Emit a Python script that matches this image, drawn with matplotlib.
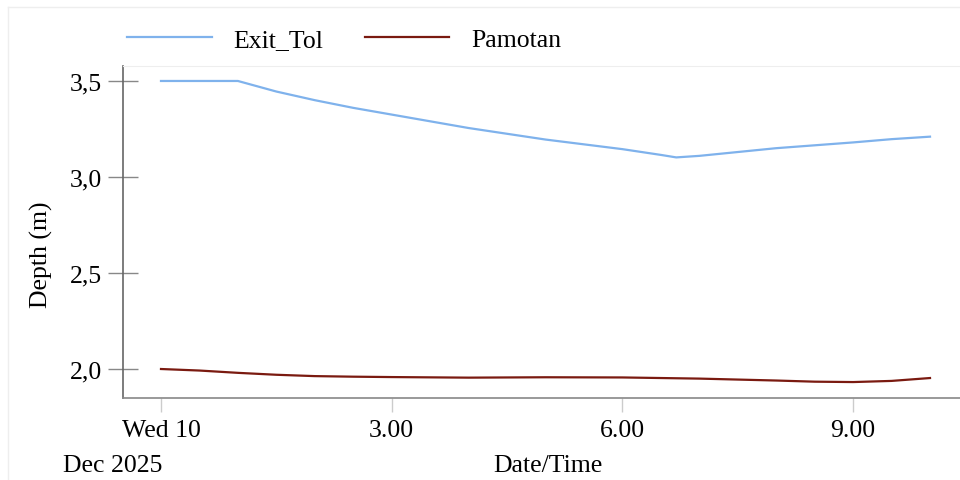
import matplotlib
matplotlib.use("Agg")
import matplotlib.pyplot as plt
from matplotlib.lines import Line2D

# Data (hours after Wed 10 Dec 2025 00:00)
exit_hours = [0.0, 1.0, 1.5, 2.0, 2.5, 3.0, 3.5, 4.0, 4.5, 5.0, 5.5, 6.0, 6.5, 6.7,
              7.0, 7.5, 8.0, 8.5, 9.0, 9.5, 10.0]
exit_tol = [3.50, 3.50, 3.445, 3.40, 3.36, 3.325, 3.29, 3.255, 3.225, 3.195, 3.17,
            3.145, 3.115, 3.102, 3.11, 3.13, 3.15, 3.165, 3.18, 3.197, 3.21]

pam_hours = [0.0, 0.5, 1.0, 1.5, 2.0, 2.5, 3.0, 4.0, 5.0, 6.0, 6.5, 7.0, 7.5, 8.0,
             8.5, 9.0, 9.5, 10.0]
pamotan = [2.000, 1.992, 1.980, 1.970, 1.963, 1.960, 1.958, 1.955, 1.957, 1.956,
           1.953, 1.950, 1.945, 1.940, 1.934, 1.932, 1.938, 1.953]

tick_pos = [0, 3, 6, 9]
tick_labels = ["Wed 10", "3.00", "6.00", "9.00"]
ytick_pos = [2.0, 2.5, 3.0, 3.5]
ytick_labels = ["2,0", "2,5", "3,0", "3,5"]

plt.rcParams['font.family'] = ['Liberation Serif', 'DejaVu Serif']
FS = 18.5

fig = plt.figure(figsize=(9.6, 4.81), dpi=100)
ax = fig.add_axes([123/960, 1-399/481, 1-123/960, (399-67)/481])

ax.plot(exit_hours, exit_tol, color='#7fb2ec', lw=1.6, label='Exit_Tol')
ax.plot(pam_hours, pamotan, color='#7a1a10', lw=1.6, label='Pamotan')

ax.set_xlim(-0.494, 10.39)
ax.set_ylim(1.849, 3.578)

ax.set_xticks(tick_pos)
ax.set_xticklabels(tick_labels, fontsize=FS)
ax.set_yticks(ytick_pos)
ax.set_yticklabels(ytick_labels, fontsize=FS)

ax.tick_params(axis='y', direction='inout', length=22, width=1, color='#888888', pad=4)
ax.tick_params(axis='x', direction='out', length=10, width=1, color='#cccccc', pad=5)

ax.spines['right'].set_visible(False)
ax.spines['top'].set_color('#eeeeee')
ax.spines['left'].set_color('#666666')
ax.spines['bottom'].set_color('#888888')
ax.spines['left'].set_linewidth(1.2)
ax.spines['bottom'].set_linewidth(1.2)

ax.set_ylabel('Depth (m)', fontsize=FS)
ax.yaxis.set_label_coords(-(123-53)/837, 0.435)

fig.text(162/960, 1-466/481, 'Dec 2025', ha='right', va='center', fontsize=FS)
fig.text(548/960, 1-466/481, 'Date/Time', ha='center', va='center', fontsize=FS)

# light outer frame
fig.add_artist(Line2D([8/960, 1], [1-8/481, 1-8/481], color='#eeeeee', lw=1))
fig.add_artist(Line2D([8/960, 8/960], [0, 1-8/481], color='#eeeeee', lw=1))

fig.legend(loc='center left', bbox_to_anchor=(127/960, 1-41/481), ncol=2,
           frameon=False, fontsize=FS, handlelength=3.3, handletextpad=0.85,
           columnspacing=1.6, borderpad=0, borderaxespad=0)

fig.savefig('out.png', dpi=100)
